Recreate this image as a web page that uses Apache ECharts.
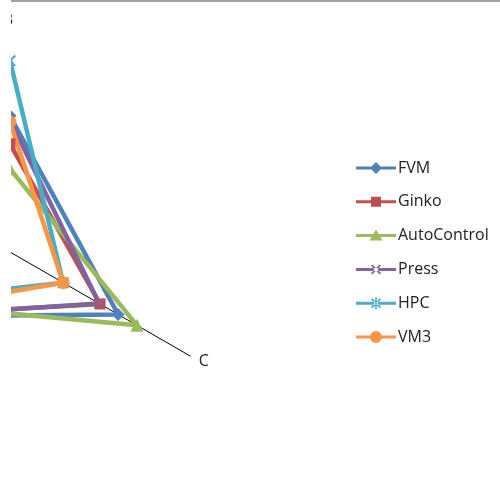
<!DOCTYPE html>
<html>
<head>
<meta charset="utf-8">
<script src="https://cdn.jsdelivr.net/npm/echarts@6/dist/echarts.min.js"></script>
<style>
html,body{margin:0;padding:0;background:#fff;}
#chart{width:500px;height:501px;}
</style>
</head>
<body>
<div id="chart"></div>
<script>
// Indicators (ECharts order: top, down-left, down-right)
const indicatorNames = ['B', 'A', 'C'];
const indicatorMax = 100;

const seriesNames = ['FVM', 'Ginko', 'AutoControl', 'Press', 'HPC', 'VM3'];
const FVM         = [65.5, 62, 60];
const Ginko       = [52, 61, 50];
const AutoControl = [40, 51, 70.5];
const Press       = [63.5, 62, 49.5];
const HPC         = [92, 44, 29.5];
const VM3         = [62.5, 54, 29.5];

const seriesValues = [FVM, Ginko, AutoControl, Press, HPC, VM3];
const colors = ['#4F81BD', '#C0504D', '#9BBB59', '#8064A2', '#4BACC6', '#F79646'];

// marker shapes
const xPath = 'path://M2.5,0 L10,7.5 L17.5,0 L20,2.5 L12.5,10 L20,17.5 L17.5,20 L10,12.5 L2.5,20 L0,17.5 L7.5,10 L0,2.5 Z';
const starPath = xPath + ' M9,0 L9,20 L11,20 L11,0 Z';
const symbols = ['diamond', 'rect', 'triangle', xPath, starPath, 'circle'];
const symbolSizes = [13, 11, 13, 11, 12, 13];

// legend icons: line + marker in a 40x14 box
const lineRect = 'M0,5.5 L40,5.5 L40,8.5 L0,8.5 Z M20,0 L20,0 M20,14 L20,14 ';
const d = 1.3;
const legX = 'M15,' + (2 + d) + ' L' + (20 - d) + ',7 L15,' + (12 - d) + ' L' + (15 + d) + ',12 L20,' + (7 + d) +
  ' L' + (25 - d) + ',12 L25,' + (12 - d) + ' L' + (20 + d) + ',7 L25,' + (2 + d) + ' L' + (25 - d) + ',2 L20,' + (7 - d) +
  ' L' + (15 + d) + ',2 Z ';
const legendIcons = [
  'path://' + lineRect + 'M20,1 L26,7 L20,13 L14,7 Z',
  'path://' + lineRect + 'M15,2 L25,2 L25,12 L15,12 Z',
  'path://' + lineRect + 'M20,1 L26.5,12 L13.5,12 Z',
  'path://' + lineRect + legX,
  'path://' + lineRect + legX + 'M19.2,1 L20.8,1 L20.8,13 L19.2,13 Z',
  'path://' + lineRect + 'M26,7 A6,6 0 1,1 14,7 A6,6 0 1,1 26,7 Z'
];

const FONT = 'Open Sans';

const chart = echarts.init(document.getElementById('chart'), null, {renderer: 'canvas'});

const series = seriesNames.map((name, i) => ({
  type: 'radar',
  name: name,
  symbol: symbols[i],
  symbolSize: symbolSizes[i],
  lineStyle: {width: 4.5, color: colors[i]},
  itemStyle: {color: colors[i]},
  data: [{value: seriesValues[i], name: name}]
}));

chart.setOption({
  animation: false,
  color: colors,
  textStyle: {fontFamily: FONT},
  legend: {
    orient: 'vertical',
    left: 356,
    top: 160,
    padding: 0,
    itemWidth: 40,
    itemHeight: 14,
    itemGap: 17.8,
    itemStyle: {borderWidth: 0},
    textStyle: {fontFamily: FONT, fontSize: 16, color: '#222', lineHeight: 14, padding: [0, 0, 0, -3]},
    data: seriesNames.map((n, i) => ({name: n, icon: legendIcons[i]}))
  },
  radar: {
    center: [10, 252],
    radius: 208,
    startAngle: 90,
    shape: 'polygon',
    splitNumber: 5,
    axisName: {
      color: '#222', fontSize: 16, fontFamily: FONT,
      formatter: function (name) { return name === indicatorNames[0] ? '{t|' + name + '}' : name; },
      rich: {t: {color: '#222', fontSize: 16, fontFamily: FONT, padding: [0, 4, 6, 0]}}
    },
    axisNameGap: 10,
    splitLine: {show: false},
    splitArea: {show: false},
    axisLine: {lineStyle: {color: '#000', width: 1}},
    axisTick: {show: false},
    axisLabel: {show: false},
    indicator: indicatorNames.map(n => ({name: n, min: 0, max: indicatorMax}))
  },
  graphic: [
    {type: 'rect', left: 0, top: 0, z: 100, shape: {width: 11, height: 501}, style: {fill: '#fff'}},
    {type: 'line', z: 101, shape: {x1: 11, y1: 1, x2: 500, y2: 1}, style: {stroke: '#a0a0a0', lineWidth: 2}}
  ],
  series: series
});
</script>
</body>
</html>
